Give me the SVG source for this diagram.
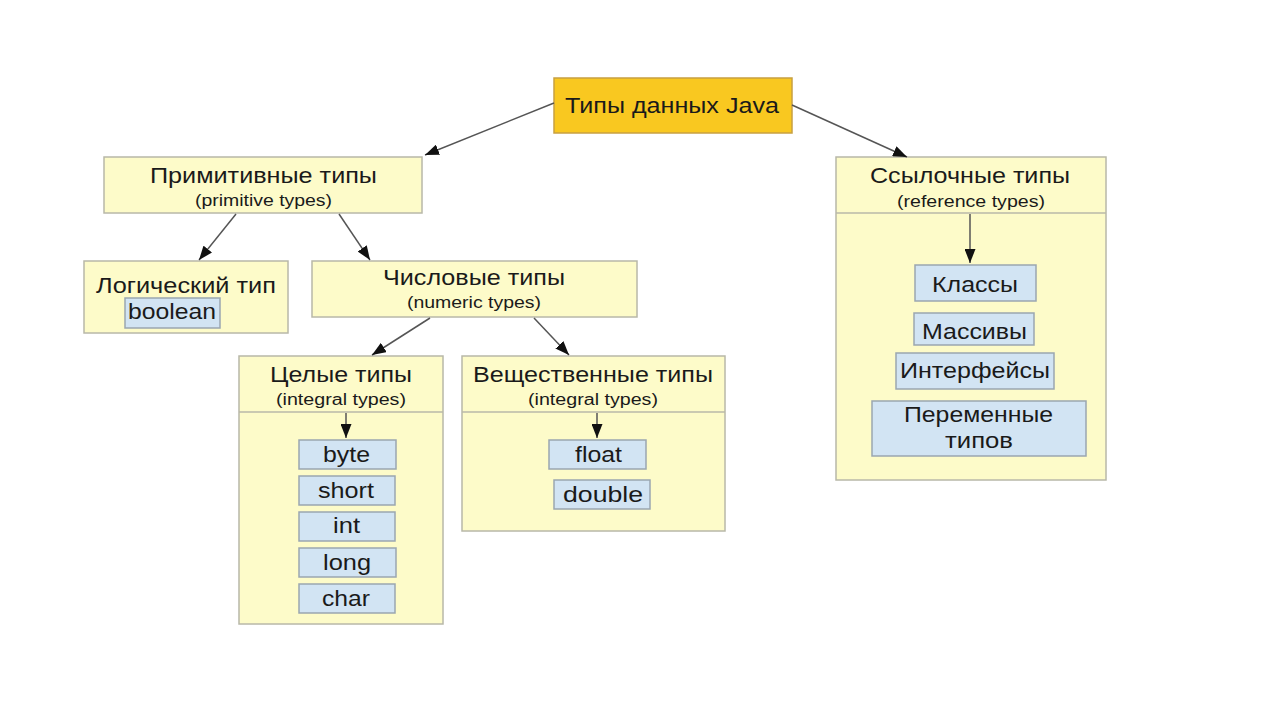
<svg xmlns="http://www.w3.org/2000/svg" width="1280" height="720" viewBox="0 0 1280 720">
<defs>
<marker id="ah" viewBox="0 0 14 11" refX="14" refY="5.5" markerWidth="14" markerHeight="11" markerUnits="userSpaceOnUse" orient="auto">
<path d="M0,0 L14,5.5 L0,11 Z" fill="#111"/>
</marker>
<style>
.box{fill:#fdfbc9;stroke:#b8b8a8;stroke-width:1.5}
.root{fill:#f9c820;stroke:#c8a040;stroke-width:1.5}
.item{fill:#d2e4f3;stroke:#9aa6b0;stroke-width:1.5}
.sep{stroke:#b8b8a8;stroke-width:1.5}
text{font-family:"Liberation Sans",Arial,sans-serif;fill:#1a1a1a;text-anchor:middle}
.t{font-size:22px}
.s{font-size:16px}
.i{font-size:22px}
.c{stroke:#555;stroke-width:1.5;fill:none;marker-end:url(#ah)}
</style>
</defs>
<rect width="1280" height="720" fill="#fff"/>
<g id="root">
<rect class="root" x="554" y="78" width="238" height="55"/>
<text class="t" x="672" y="113" textLength="214" lengthAdjust="spacingAndGlyphs">Типы данных Java</text>
</g>
<g id="primitive">
<rect class="box" x="104" y="157" width="318" height="56"/>
<text class="t" x="263.5" y="183" textLength="227" lengthAdjust="spacingAndGlyphs">Примитивные типы</text>
<text class="s" x="263.5" y="206" textLength="137" lengthAdjust="spacingAndGlyphs">(primitive types)</text>
</g>
<g id="logical">
<rect class="box" x="84" y="261" width="204" height="72"/>
<text class="t" x="186" y="293" textLength="180" lengthAdjust="spacingAndGlyphs">Логический тип</text>
<rect class="item" x="125" y="298" width="95" height="30"/>
<text class="i" x="172" y="319" textLength="88" lengthAdjust="spacingAndGlyphs">boolean</text>
</g>
<g id="numeric">
<rect class="box" x="312" y="261" width="325" height="56"/>
<text class="t" x="474" y="285" textLength="182" lengthAdjust="spacingAndGlyphs">Числовые типы</text>
<text class="s" x="474" y="308" textLength="134" lengthAdjust="spacingAndGlyphs">(numeric types)</text>
</g>
<g id="integral">
<rect class="box" x="239" y="356" width="204" height="268"/>
<line class="sep" x1="239" y1="412" x2="443" y2="412"/>
<text class="t" x="341" y="382" textLength="142" lengthAdjust="spacingAndGlyphs">Целые типы</text>
<text class="s" x="341" y="405" textLength="130" lengthAdjust="spacingAndGlyphs">(integral types)</text>
<rect class="item" x="299" y="440" width="97" height="29"/>
<text class="i" x="346.5" y="462" textLength="47" lengthAdjust="spacingAndGlyphs">byte</text>
<rect class="item" x="299" y="476" width="96" height="29"/>
<text class="i" x="346" y="498" textLength="56" lengthAdjust="spacingAndGlyphs">short</text>
<rect class="item" x="299" y="512" width="96" height="29"/>
<text class="i" x="346.5" y="533" textLength="27" lengthAdjust="spacingAndGlyphs">int</text>
<rect class="item" x="299" y="548" width="97" height="29"/>
<text class="i" x="347" y="570" textLength="48" lengthAdjust="spacingAndGlyphs">long</text>
<rect class="item" x="299" y="584" width="96" height="29"/>
<text class="i" x="346" y="606" textLength="48" lengthAdjust="spacingAndGlyphs">char</text>
</g>
<g id="real">
<rect class="box" x="462" y="356" width="263" height="175"/>
<line class="sep" x1="462" y1="412" x2="725" y2="412"/>
<text class="t" x="593" y="382" textLength="240" lengthAdjust="spacingAndGlyphs">Вещественные типы</text>
<text class="s" x="593" y="405" textLength="130" lengthAdjust="spacingAndGlyphs">(integral types)</text>
<rect class="item" x="549" y="440" width="97" height="29"/>
<text class="i" x="598.5" y="462" textLength="47" lengthAdjust="spacingAndGlyphs">float</text>
<rect class="item" x="554" y="480" width="96" height="29"/>
<text class="i" x="603" y="502" textLength="80" lengthAdjust="spacingAndGlyphs">double</text>
</g>
<g id="reference">
<rect class="box" x="836" y="157" width="270" height="323"/>
<line class="sep" x1="836" y1="213" x2="1106" y2="213"/>
<text class="t" x="970" y="183" textLength="200" lengthAdjust="spacingAndGlyphs">Ссылочные типы</text>
<text class="s" x="971" y="206.5" textLength="148" lengthAdjust="spacingAndGlyphs">(reference types)</text>
<rect class="item" x="915" y="265" width="121" height="36"/>
<text class="i" x="975" y="291.5" textLength="86" lengthAdjust="spacingAndGlyphs">Классы</text>
<rect class="item" x="914" y="313" width="120" height="32"/>
<text class="i" x="974.5" y="339" textLength="105" lengthAdjust="spacingAndGlyphs">Массивы</text>
<rect class="item" x="896" y="353" width="158" height="36"/>
<text class="i" x="975" y="378" textLength="150" lengthAdjust="spacingAndGlyphs">Интерфейсы</text>
<rect class="item" x="872" y="401" width="214" height="55"/>
<text class="i" x="978.5" y="421.5" textLength="149" lengthAdjust="spacingAndGlyphs">Переменные</text>
<text class="i" x="979" y="448" textLength="68" lengthAdjust="spacingAndGlyphs">типов</text>
</g>
<g id="connectors">
<line class="c" x1="554" y1="103" x2="425" y2="155"/>
<line class="c" x1="792" y1="105" x2="907" y2="157"/>
<line class="c" x1="236" y1="214" x2="199" y2="260"/>
<line class="c" x1="339" y1="214" x2="370" y2="260"/>
<line class="c" x1="430" y1="318" x2="372" y2="355"/>
<line class="c" x1="534" y1="318" x2="569" y2="355"/>
<line class="c" x1="346" y1="413" x2="346" y2="438"/>
<line class="c" x1="597" y1="413" x2="597" y2="438"/>
<line class="c" x1="970" y1="214" x2="970" y2="263"/>
</g>
</svg>
